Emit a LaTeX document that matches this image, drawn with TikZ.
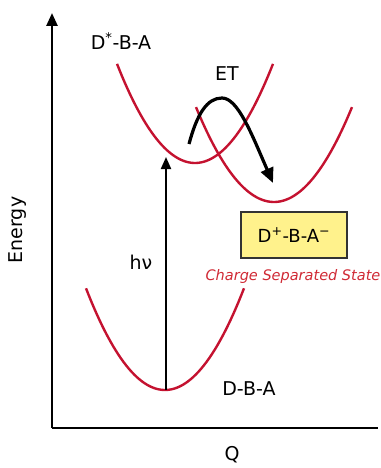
\documentclass[tikz,border=0pt]{standalone}
\usepackage{fontspec}
\setmainfont{DejaVu Sans}
\usetikzlibrary{arrows.meta}
\definecolor{curvered}{HTML}{C41230}
\definecolor{labelred}{HTML}{D02A35}
\definecolor{boxyellow}{HTML}{FFF28C}
\definecolor{boxedge}{HTML}{333333}
\tikzset{
  curve/.style={draw=curvered, line width=2.4pt},
  axis/.style={draw=black, line width=2.6pt},
  lbl/.style={font=\fontsize{19}{21}\selectfont, inner sep=0pt},
}
\begin{document}
\begin{tikzpicture}[x=1pt,y=-1pt]
\useasboundingbox (0,0) rectangle (380,468);
% axes
\coordinate (origin) at (52,428);
\coordinate (ytop) at (52,13);
\coordinate (xend) at (378,428);
\draw[axis, -{Triangle[length=13pt,width=11pt]}] (origin) -- (ytop);
\draw[axis] (origin) -- (xend);
% parabolas
\draw[curve] plot[domain=86:244, samples=60] (\x, {390-0.0163*(\x-165)*(\x-165)});
\draw[curve] plot[domain=117:273, samples=60] (\x, {163-0.0163*(\x-195)*(\x-195)});
\draw[curve] plot[domain=196:352, samples=60] (\x, {202-0.0156*(\x-274)*(\x-274)});
% h nu arrow
\coordinate (hvstart) at (166,390);
\coordinate (hvend) at (166,157);
\draw[line width=2pt, -{Triangle[length=12pt,width=10pt]}] (hvstart) -- (hvend);
% ET arrow
\coordinate (etstart) at (189,144);
\coordinate (etpeak) at (222,98);
\coordinate (etend) at (273,183);
\draw[line width=3.2pt, -{Triangle[length=15pt,width=13pt]}] (etstart) .. controls (197,114) and (207,98) .. (etpeak) .. controls (238,98) and (252,135) .. (etend);
% labels
\node[lbl] (dstar) at (121,41) {D\textsuperscript{*}-B-A};
\node[lbl] (et) at (227,74) {ET};
\node[lbl] (hv) at (141,262) {hν};
\node[lbl] (dba) at (249,389) {D-B-A};
\node[lbl] (q) at (232,455) {Q};
\node[lbl, rotate=90] (energy) at (18,230) {Energy};
\node[draw=boxedge, fill=boxyellow, line width=1.6pt, minimum width=106pt, minimum height=46pt, font=\fontsize{18}{20}\selectfont] (cs) at (294,235) {D\textsuperscript{+}-B-A\textsuperscript{−}};
\node[font=\fontsize{14.5}{16}\itshape\selectfont, text=labelred, inner sep=0pt] (cslabel) at (293,276) {Charge Separated State};
\end{tikzpicture}
\end{document}
